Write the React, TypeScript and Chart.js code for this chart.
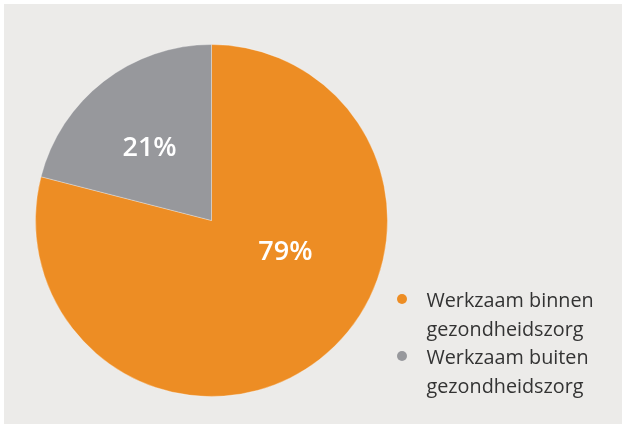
import React, { useEffect, useRef } from "react";
import { Chart, registerables } from "chart.js";

Chart.register(...registerables);

const categories: string[][] = [
  ["Werkzaam binnen", "gezondheidszorg"],
  ["Werkzaam buiten", "gezondheidszorg"],
];
const values: number[] = [79, 21];
const colors: string[] = ["#ED8D24", "#97989C"];

const W = 622;
const H = 428;

const panelPlugin = {
  id: "panelBg",
  beforeDraw(chart: any) {
    const { ctx } = chart;
    ctx.save();
    ctx.fillStyle = "#ffffff";
    ctx.fillRect(0, 0, W, H);
    ctx.fillStyle = "#ECEBE9";
    ctx.fillRect(4, 4, W - 4, H - 8);
    ctx.restore();
  },
};

const pctLabelPlugin = {
  id: "pctLabels",
  afterDatasetsDraw(chart: any, _args: any, opts: any) {
    const { ctx } = chart;
    const meta = chart.getDatasetMeta(0);
    const ds = chart.data.datasets[0];
    ctx.save();
    ctx.fillStyle = "#ffffff";
    ctx.font = "600 27px 'Open Sans', sans-serif";
    ctx.textAlign = "center";
    ctx.textBaseline = "middle";
    meta.data.forEach((arc: any, i: number) => {
      const p = arc.tooltipPosition();
      const off = (opts.offsets && opts.offsets[i]) || { dx: 0, dy: 0 };
      ctx.fillText(`${ds.data[i]}%`, p.x + off.dx, p.y + off.dy);
    });
    ctx.restore();
  },
};

const legendPlugin = {
  id: "sideLegend",
  afterDraw(chart: any, _args: any, opts: any) {
    const { ctx } = chart;
    const labels = chart.data.labels as string[][];
    const colorsArr = chart.data.datasets[0].backgroundColor as string[];
    ctx.save();
    ctx.font = "400 19.8px 'Open Sans', sans-serif";
    ctx.textAlign = "left";
    ctx.textBaseline = "alphabetic";
    let y = opts.y;
    labels.forEach((lines, i) => {
      ctx.fillStyle = colorsArr[i];
      ctx.beginPath();
      ctx.arc(opts.x, y - 8, 5, 0, Math.PI * 2);
      ctx.fill();
      ctx.fillStyle = "#333333";
      lines.forEach((line) => {
        ctx.fillText(line, opts.x + 24.5, y);
        y += opts.lineHeight;
      });
    });
    ctx.restore();
  },
};

export default function App() {
  const ref = useRef<HTMLCanvasElement | null>(null);
  useEffect(() => {
    if (!ref.current) return;
    const chart = new Chart(ref.current, {
      type: "pie",
      data: {
        labels: categories,
        datasets: [
          {
            data: values,
            backgroundColor: colors,
            borderColor: "rgba(255,255,255,0.3)",
            borderWidth: 1,
          },
        ],
      },
      options: {
        responsive: false,
        animation: false,
        layout: { padding: { left: 35, top: 44, right: 234, bottom: 31 } },
        plugins: {
          legend: { display: false },
          tooltip: { enabled: false },
          pctLabels: { offsets: [{ dx: 20, dy: -38 }, { dx: -8, dy: -3 }] },
          sideLegend: { x: 402, y: 307, lineHeight: 28.5 },
        } as any,
      },
      plugins: [panelPlugin, pctLabelPlugin, legendPlugin],
    });
    return () => chart.destroy();
  }, []);
  return (
    <div style={{ position: "absolute", left: 0, top: 0, width: W, height: H }}>
      <canvas ref={ref} width={W} height={H} style={{ display: "block" }} />
    </div>
  );
}
